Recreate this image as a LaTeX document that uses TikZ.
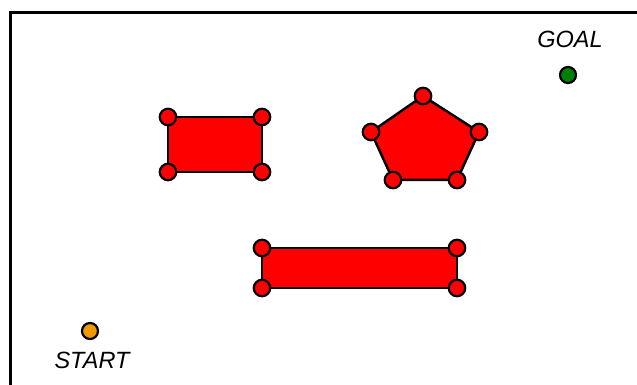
\documentclass[tikz,border=0pt]{standalone}
\usepackage{fontspec}
\setmainfont{Liberation Sans}
\definecolor{goalgreen}{RGB}{0,128,0}
\definecolor{startorange}{RGB}{242,152,0}
\begin{document}
\begin{tikzpicture}[x=1pt,y=1pt,
  vtx/.style={circle,draw=black,fill=red,line width=2.2pt,minimum size=16.5pt,inner sep=0pt},
  dot/.style={circle,draw=black,line width=2.2pt,minimum size=16pt,inner sep=0pt},
  obst/.style={draw=black,fill=red,line width=2.5pt,line join=round},
  lbl/.style={font=\fontsize{23.5}{26}\selectfont\itshape,inner sep=0pt}]
\clip (0,0) rectangle (637,385);
\draw[line width=3pt] (10,372) rectangle (660,-20);
% rectangle 1
\coordinate (a1) at (168,268);
\coordinate (a2) at (262,268);
\coordinate (a3) at (262,213);
\coordinate (a4) at (168,213);
\filldraw[obst] (a1) -- (a2) -- (a3) -- (a4) -- cycle;
\foreach \c in {a1,a2,a3,a4} \node[vtx] (\c v) at (\c) {};
% pentagon
\coordinate (p1) at (423,289);
\coordinate (p2) at (479,253);
\coordinate (p3) at (457,205);
\coordinate (p4) at (393,205);
\coordinate (p5) at (371,253);
\filldraw[obst] (p1) -- (p2) -- (p3) -- (p4) -- (p5) -- cycle;
\foreach \c in {p1,p2,p3,p4,p5} \node[vtx] (\c v) at (\c) {};
% long rectangle
\coordinate (b1) at (262,137);
\coordinate (b2) at (457,137);
\coordinate (b3) at (457,97);
\coordinate (b4) at (262,97);
\filldraw[obst] (b1) -- (b2) -- (b3) -- (b4) -- cycle;
\foreach \c in {b1,b2,b3,b4} \node[vtx] (\c v) at (\c) {};
% goal and start
\node[dot,fill=goalgreen] (goal) at (568,310) {};
\node[lbl] (goallbl) at (570,346) {GOAL};
\node[dot,fill=startorange] (start) at (90,54) {};
\node[lbl] (startlbl) at (92,25) {START};
\end{tikzpicture}
\end{document}
